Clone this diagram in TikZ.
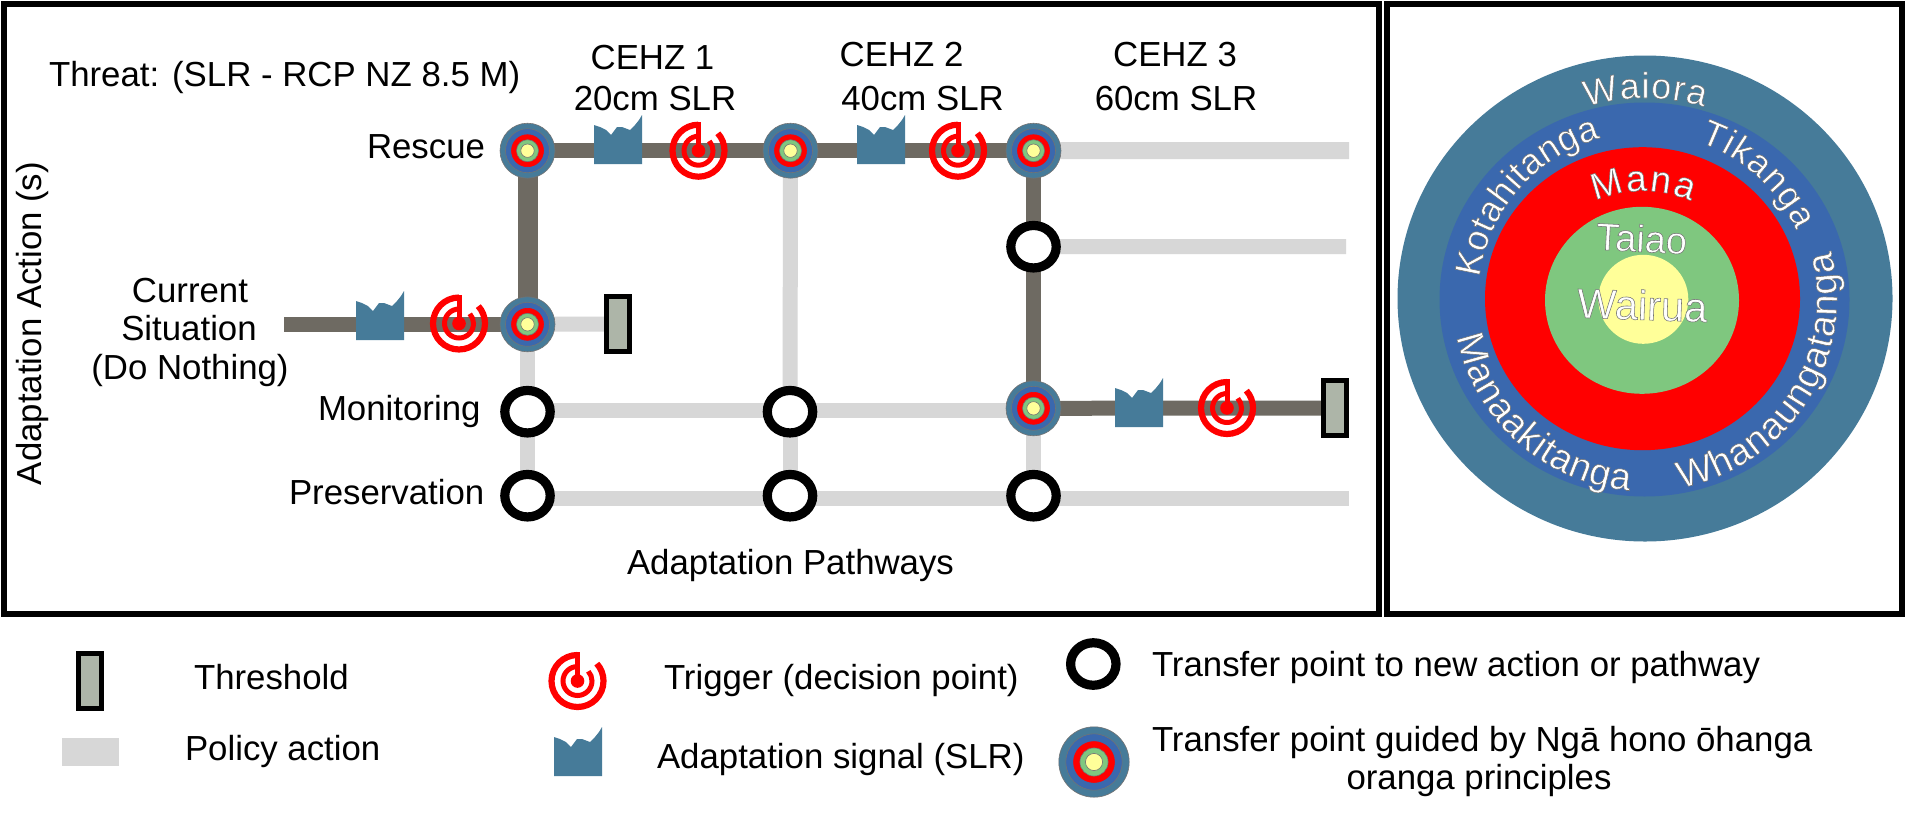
\documentclass[tikz,border=0pt]{standalone}
\usepackage{fontspec}
\setmainfont{Liberation Sans}
\usetikzlibrary{shapes.geometric,decorations.text}
\pgfdeclarelayer{bg}\pgfsetlayers{bg,main}
\definecolor{tealc}{HTML}{467B99}
\definecolor{bluec}{HTML}{3A68AE}
\definecolor{greenc}{HTML}{7FC77F}
\definecolor{yellowc}{HTML}{FFFF99}
\definecolor{darkline}{HTML}{6E6A62}
\definecolor{lightline}{HTML}{D7D7D7}
\definecolor{threshc}{HTML}{ADB5A8}
\newcommand\maintext{\fontsize{34.8}{40}\selectfont}
\newcommand\outlon{\special{pdf:code 2 Tr 0.55 w 0.45 0.45 0.45 RG}}
\newcommand\outloff{\special{pdf:code 0 Tr}}
\newcommand\arcfontA{\fontsize{36}{36}\selectfont\color{white}\outlon}
\newcommand\arcfontB{\fontsize{38}{38}\selectfont\color{white}\outlon}
\newcommand\arcfontC{\fontsize{37}{37}\selectfont\color{white}\outlon}
\tikzset{
  label text/.style={font=\maintext,inner sep=0pt,outer sep=0pt,anchor=base west,text=black},
  center text/.style={font=\maintext,inner sep=0pt,outer sep=0pt,anchor=base,text=black},
  frame box/.style={draw=black,line width=6pt},
  policy line/.style={draw=lightline,line width=15pt},
  policy thick/.style={draw=lightline,line width=17pt},
  active line/.style={draw=darkline,line width=15pt},
  active thick/.style={draw=darkline,line width=20pt},
  ring node/.style={ellipse,draw=black,line width=9.2pt,fill=white,minimum width=45.4pt,minimum height=42.5pt,inner sep=0pt,outer sep=0pt},
  threshold node/.style={rectangle,draw=black,line width=5pt,fill=threshc,minimum width=23pt,minimum height=55pt,inner sep=0pt,outer sep=0pt},
  target layer/.style={circle,draw=black!55,line width=.6pt,inner sep=0pt,outer sep=0pt},
  panel disc/.style={ellipse,inner sep=0pt,outer sep=0pt},
  signal shape/.pic={\fill[tealc] (0,0) -- (0,-39) -- (6,-37) -- (12,-34) -- (17,-29) -- (20,-33) -- (23,-37) -- (28,-37) -- (36,-34) -- (41,-39) -- (45,-44) -- (48,-49) -- (48,0) -- cycle;},
  trigger shape/.pic={
    \begin{scope}[y=1pt]
      \draw[red,line width=6.2pt] (90:26) arc[start angle=90,end angle=402,radius=26];
      \draw[red,line width=5pt] (90:14.5) arc[start angle=90,end angle=402,radius=14.5];
      \fill[red] (0,0) circle[radius=6.8];
      \fill[red] (-2.2,0) rectangle (2.8,29);
    \end{scope}
  },
  arc text/.style={decorate,decoration={text along path,text={#1},text align={fit to path}}}
}
\newcommand\targetnode[4]{%
  \node[target layer,fill=tealc,minimum size=55pt,scale=#4] (#1) at (#2,#3) {};
  \node[target layer,fill=bluec,minimum size=44pt,scale=#4] at (#1.center) {};
  \node[target layer,fill=red,draw=red,minimum size=32pt,scale=#4] at (#1.center) {};
  \node[target layer,fill=greenc,minimum size=22pt,scale=#4] at (#1.center) {};
  \node[target layer,fill=yellowc,minimum size=13.4pt,scale=#4] at (#1.center) {};
}
\begin{document}
\begin{tikzpicture}[x=1pt,y=-1pt]
\useasboundingbox (0,0) rectangle (1905,825);
\begin{pgfonlayer}{bg}
  \fill[white] (0,0) rectangle (1905,825);
\end{pgfonlayer}
% frames
\draw[frame box] (3.5,3.5) rectangle (1378.5,614);
\draw[frame box] (1386.5,3.5) rectangle (1902,614);
% nodes
\targetnode{bigA}{527.5}{150.7}{1}
\targetnode{bigB}{790.5}{150.7}{1}
\targetnode{bigC}{1033.5}{150.7}{1}
\targetnode{bigD}{527.5}{324.3}{1}
\targetnode{bigE}{1033.5}{408.3}{1}
\node[ring node] (ringA) at (1033.5,246.7) {};
\node[ring node] (ringB) at (527.5,411.7) {};
\node[ring node] (ringC) at (790,411.7) {};
\node[ring node] (ringD) at (527.5,495.7) {};
\node[ring node] (ringE) at (790,495.7) {};
\node[ring node] (ringF) at (1033.5,495.7) {};
\node[threshold node] (thA) at (618,324) {};
\node[threshold node] (thB) at (1335,408) {};
\coordinate (startCur) at (284,324.3);
\coordinate (endA) at (1349,150.5);
\coordinate (endB) at (1346,246.5);
\coordinate (endC) at (1349,498.5);
\begin{pgfonlayer}{bg}
  \draw[policy thick] (bigC.center) -- (endA);
  \draw[policy line] (ringA.center) -- (endB);
  \draw[policy line] ([yshift=1.2pt]ringB.center) -- ([yshift=1.2pt]ringC.center);
  \draw[policy line] ([yshift=1.2pt]ringC.center) -- ([yshift=-2.2pt]bigE.center);
  \draw[policy line] ([yshift=-2.8pt]ringD.center) -- ([yshift=-2.8pt]ringE.center);
  \draw[policy line] ([yshift=-2.8pt]ringE.center) -- ([yshift=-2.8pt]ringF.center);
  \draw[policy line] ([yshift=-2.8pt]ringF.center) -- (endC);
  \draw[policy line] (bigD.center) -- (thA.center);
  \draw[policy line] (bigD.center) -- (ringB.center);
  \draw[policy line] (ringB.center) -- (ringD.center);
  \draw[policy line] (bigB.center) -- (ringC.center);
  \draw[policy line] (ringC.center) -- (ringE.center);
  \draw[policy line] (bigE.center) -- (ringF.center);
  \draw[active line] (bigA.center) -- (bigB.center);
  \draw[active line] (bigB.center) -- (bigC.center);
  \draw[active thick] (bigA.center) -- (bigD.center);
  \draw[active line] (startCur) -- (bigD.center);
  \draw[active line] (bigC.center) -- (ringA.center);
  \draw[active line] (ringA.center) -- (bigE.center);
  \draw[active line] (bigE.center) -- (thB.center);
\end{pgfonlayer}
% signals and triggers on the pathways
\pic at (594,164) {signal shape};
\pic at (857,164) {signal shape};
\pic at (356,340) {signal shape};
\pic at (1115,427) {signal shape};
\pic at (698.5,150.7) {trigger shape};
\pic at (958,150.7) {trigger shape};
\pic at (459,323.5) {trigger shape};
\pic at (1227,408) {trigger shape};
% panel labels
\node[label text] (tThreat) at (49,86) {Threat: (SLR - RCP NZ 8.5 M)};
\node[center text] (tC1) at (652.5,69) {CEHZ 1};
\node[center text] (tS1) at (655,110.5) {20cm SLR};
\node[center text] (tC2) at (901.5,66.7) {CEHZ 2};
\node[center text] (tS2) at (922.6,110.7) {40cm SLR};
\node[center text] (tC3) at (1175,66.7) {CEHZ 3};
\node[center text] (tS3) at (1176,110.7) {60cm SLR};
\node[label text] (tRescue) at (367,158) {Rescue};
\node[center text] (tCur1) at (190,302.7) {Current};
\node[center text] (tCur2) at (189,340.7) {Situation};
\node[center text] (tCur3) at (190,379) {(Do Nothing)};
\node[label text] (tMon) at (318,420) {Monitoring};
\node[label text] (tPres) at (289,504) {Preservation};
\node[label text] (tPath) at (627,574) {Adaptation Pathways};
\node[label text,rotate=90] (tAct) at (41,485) {Adaptation Action (s)};
% right panel: concentric principles
\node[panel disc,fill=tealc,minimum width=495pt,minimum height=486pt] (pOuter) at (1645,298.5) {};
\node[panel disc,fill=bluec,minimum width=410pt,minimum height=394pt] (pBlue) at (1644.5,299.5) {};
\node[panel disc,fill=red,minimum width=315pt,minimum height=303pt] (pRed) at (1642.5,298.7) {};
\node[panel disc,fill=greenc,minimum width=194pt,minimum height=187pt] (pGreen) at (1642,300.3) {};
\node[panel disc,fill=yellowc,minimum width=90pt,minimum height=89pt] (pYellow) at (1643.3,299.3) {};
\begin{scope}[shift={(1645,299)},y=1pt]
  \path[arc text={|\arcfontA|Waiora}] (107:201) arc[start angle=107,end angle=73,radius=201];
  \path[arc text={|\arcfontA|Kotahitanga}] (172.5:167) arc[start angle=172.5,end angle=105.5,radius=167];
  \path[arc text={|\arcfontA|Tikanga}] (71:166) arc[start angle=71,end angle=24.5,radius=166];
  \path[arc text={|\arcfontB|Whanaungatanga}] (-79.3:192) arc[start angle=-79.3,end angle=14.5,radius=192];
  \path[arc text={|\arcfontB|Manaakitanga}] (191.3:192) arc[start angle=191.3,end angle=265.3,radius=192];
\end{scope}
\begin{scope}[shift={(1643,311)},y=1pt]
  \path[arc text={|\arcfontC|Mana}] (113.5:120) arc[start angle=113.5,end angle=66.5,radius=120];
\end{scope}
\node[font=\fontsize{38}{38}\selectfont,text=white,inner sep=0pt,rotate=-3] (tTaiao) at (1641.7,238.3) {\outlon Taiao\outloff};
\node[font=\fontsize{41.6}{41.6}\selectfont,text=white,inner sep=0pt,rotate=-2] (tWairua) at (1642.3,305) {\outlon Wairua\outloff};
% legend
\node[threshold node] (lgTh) at (90,681) {};
\node[rectangle,fill=lightline,minimum width=57pt,minimum height=28pt,inner sep=0pt] (lgPol) at (90.5,752) {};
\pic at (577.5,681) {trigger shape};
\pic at (554,776) {signal shape};
\node[ring node] (lgRing) at (1093.3,664) {};
\targetnode{lgBig}{1094}{762}{1.28}
\node[label text] (lTh) at (194,689) {Threshold};
\node[label text] (lPol) at (185,760) {Policy action};
\node[label text] (lTr) at (664,689) {Trigger (decision point)};
\node[label text] (lSig) at (657,768) {Adaptation signal (SLR)};
\node[label text] (lRing) at (1152,676) {Transfer point to new action or pathway};
\node[label text] (lBig) at (1152,751) {Transfer point guided by Ngā hono ōhanga};
\node[center text] (lBig2) at (1479,789) {oranga principles};
\end{tikzpicture}
\end{document}
